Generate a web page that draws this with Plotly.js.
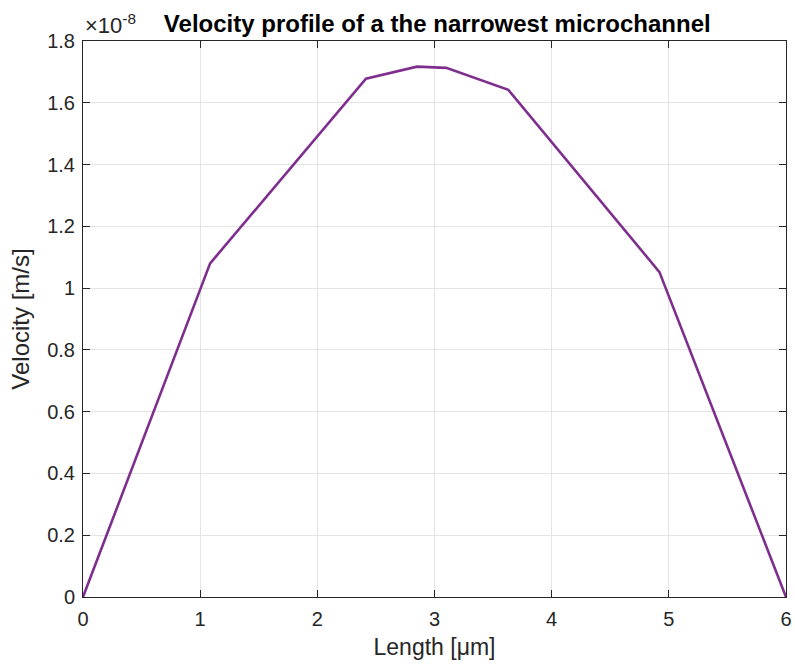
<!DOCTYPE html>
<html>
<head>
<meta charset="utf-8">
<script src="https://cdn.plot.ly/plotly-3.0.1.min.js"></script>
<style>html,body{margin:0;padding:0;background:#fff;}#chart{width:795px;height:666px;}</style>
</head>
<body>
<div id="chart"></div>
<script>
// Length along the channel [µm]
const lengthUm = [0, 1.085, 2.415, 2.85, 3.1, 3.63, 4.92, 6];
// Velocity in units of 1e-8 m/s
const velocityE8 = [0, 1.08, 1.678, 1.717, 1.713, 1.642, 1.052, 0];
const xTicks = [0, 1, 2, 3, 4, 5, 6];
const yTicks = [0, 0.2, 0.4, 0.6, 0.8, 1, 1.2, 1.4, 1.6, 1.8];
const yTickText = ['0', '0.2', '0.4', '0.6', '0.8', '1', '1.2', '1.4', '1.6', '1.8'];

const font = 'Liberation Sans, Arial, Helvetica, sans-serif';
const axisCol = '#262626';

const trace = {
  x: lengthUm, y: velocityE8, type: 'scatter', mode: 'lines',
  line: {color: '#7E2F8E', width: 2.6}, hoverinfo: 'none'
};

const commonAxis = {
  showline: true, linecolor: axisCol, linewidth: 1, mirror: 'allticks',
  ticks: 'inside', ticklen: 7, tickcolor: axisCol, tickwidth: 1,
  showgrid: true, gridcolor: '#e4e4e4', gridwidth: 1, zeroline: false,
  tickfont: {family: font, size: 20, color: axisCol}
};

const layout = {
  width: 795, height: 666,
  margin: {l: 83, r: 9, t: 41, b: 69},
  paper_bgcolor: '#fff', plot_bgcolor: '#fff',
  showlegend: false,
  title: {
    text: '<b>Velocity profile of a the narrowest microchannel</b>',
    font: {family: font, size: 24, color: '#000'},
    x: 0.55, xanchor: 'center', y: 0.965, yanchor: 'middle'
  },
  xaxis: Object.assign({}, commonAxis, {
    range: [0, 6], tickvals: xTicks, ticklabelstandoff: 4,
    title: {text: 'Length [μm]', font: {family: font, size: 23, color: axisCol}, standoff: 9}
  }),
  yaxis: Object.assign({}, commonAxis, {
    range: [0, 1.8], tickvals: yTicks, ticktext: yTickText, ticklabelstandoff: 3,
    title: {text: 'Velocity [m/s]', font: {family: font, size: 24, color: axisCol}, standoff: 10}
  }),
  annotations: [{
    text: '×10<sup>-8</sup>', xref: 'paper', yref: 'paper', x: 0, y: 1,
    xanchor: 'left', yanchor: 'bottom', yshift: 1, showarrow: false,
    font: {family: font, size: 22, color: axisCol}
  }]
};

Plotly.newPlot('chart', [trace], layout, {displayModeBar: false, staticPlot: true});
</script>
</body>
</html>
